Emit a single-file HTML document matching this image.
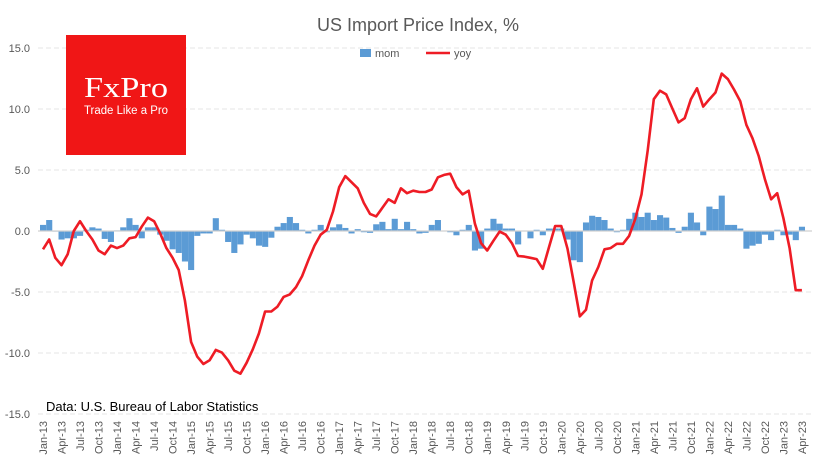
<!DOCTYPE html>
<html><head><meta charset="utf-8"><style>
body{margin:0;background:#fff;width:836px;height:470px;overflow:hidden}
svg{display:block;font-family:"Liberation Sans",sans-serif}
</style></head><body>
<svg id="c" width="836" height="470" xmlns="http://www.w3.org/2000/svg"></svg>
<script>
const yoy=[-1.5,-0.7,-2.2,-2.8,-1.9,0,0.8,0,-0.7,-1.6,-1.9,-1.2,-1.4,-1.2,-0.6,-0.5,0.35,1.1,0.8,-0.2,-1.4,-2.2,-3.2,-5.7,-9.1,-10.3,-10.9,-10.6,-9.75,-9.97,-10.6,-11.45,-11.7,-10.8,-9.7,-8.4,-6.6,-6.6,-6.2,-5.4,-5.2,-4.6,-3.7,-2.4,-1.2,-0.3,0.1,1.6,3.6,4.5,4.0,3.5,2.3,1.4,1.2,1.9,2.6,2.3,3.5,3.1,3.3,3.2,3.2,
3.4,4.4,4.6,4.7,3.6,3.0,3.3,0.6,-1.0,-1.6,-0.8,-0.05,-0.3,-1.0,-2.05,-2.1,-2.2,-2.3,-3.1,-1.35,0.4,0.4,-1.45,-4.15,-7.0,-6.45,-4.05,-2.95,-1.5,-1.4,-1.05,-1.05,-0.4,1.0,3.0,6.6,10.8,11.5,11.2,10.05,8.9,9.25,10.8,11.7,10.2,10.8,11.35,12.9,12.45,11.6,10.65,8.7,7.6,6.15,4.25,2.6,3.1,1.05,-1.4,-4.85,-4.85];
const mom=[0.5,0.9,-0.05,-0.7,-0.6,-0.6,-0.4,0.1,0.3,0.2,-0.65,-0.9,0.05,0.3,1.05,0.5,-0.6,0.3,0.3,-0.3,-0.8,-1.5,-1.8,-2.5,-3.2,-0.4,-0.2,-0.2,1.05,0.1,-0.9,-1.8,-1.1,-0.3,-0.6,-1.2,-1.3,-0.55,0.35,0.65,1.15,0.65,0.1,-0.2,0.1,0.5,-0.1,0.3,0.55,0.25,-0.2,0.15,-0.1,-0.15,0.55,0.75,0.15,1.0,0.15,0.75,0.15,-0.2,
-0.15,0.5,0.9,0,-0.1,-0.35,0.1,0.5,-1.6,-1.45,0.2,1.0,0.6,0.2,0.2,-1.1,0,-0.6,0.1,-0.35,0.2,0.2,0.2,-0.7,-2.4,-2.55,0.7,1.25,1.15,0.9,0.2,-0.1,0.1,1.0,1.5,1.15,1.5,0.9,1.3,1.1,0.25,-0.15,0.35,1.5,0.7,-0.35,2.0,1.8,2.9,0.5,0.5,0.2,-1.45,-1.2,-1.05,-0.3,-0.75,0.1,-0.35,-0.3,-0.75,0.35];
const X=i=>43+6.17*i, Y=v=>231-v*12.2;
let s='';
for(let v=15;v>=-15;v-=5){const y=Y(v);
 if(v!==0) s+=`<line x1="38" x2="812" y1="${y}" y2="${y}" stroke="#e6e6e6" stroke-dasharray="5,3"/>`;
 s+=`<text x="30" y="${y+4}" font-size="11" fill="#595959" text-anchor="end">${v.toFixed(1)}</text>`;}
mom.forEach((v,i)=>{const y=Math.min(Y(v),231),h=Math.abs(v*12.2);s+=`<rect x="${X(i)-3}" y="${y}" width="6.1" height="${h}" fill="#5b9bd5"/>`;});
s+=`<line x1="38" x2="812" y1="231" y2="231" stroke="#d0d0d0" stroke-width="1.2"/>`;
s+=`<polyline fill="none" stroke="#ee1c25" stroke-width="2.6" stroke-linejoin="round" points="${yoy.map((v,i)=>X(i).toFixed(1)+','+Y(v).toFixed(1)).join(' ')}"/>`;
const mn=['Jan','Apr','Jul','Oct'];
for(let i=0;i<124;i+=3){const yr=13+Math.floor(i/12),m=mn[(i%12)/3];
 s+=`<text transform="translate(${X(i)+4},421) rotate(-90)" font-size="11" fill="#595959" text-anchor="end">${m}-${yr}</text>`;}
s+=`<text x="418" y="31" font-size="18" fill="#595959" text-anchor="middle">US Import Price Index, %</text>`;
s+=`<rect x="360" y="49" width="11" height="8" fill="#5b9bd5"/><text x="375" y="57" font-size="11" fill="#595959">mom</text>`;
s+=`<line x1="426" x2="450" y1="53" y2="53" stroke="#ee1c25" stroke-width="2.6"/><text x="454" y="57" font-size="11" fill="#595959">yoy</text>`;
s+=`<rect x="66" y="35" width="120" height="120" fill="#f01616"/>`;
s+=`<text x="84" y="97" font-size="29" fill="#fff" font-family="Liberation Serif,serif" textLength="84" lengthAdjust="spacingAndGlyphs">FxPro</text>`;
s+=`<text x="84" y="114" font-size="11.5" fill="#fff" textLength="84" lengthAdjust="spacingAndGlyphs">Trade Like a Pro</text>`;
s+=`<text x="46" y="411" font-size="13" fill="#000">Data: U.S. Bureau of Labor Statistics</text>`;
document.getElementById('c').innerHTML=s;
</script>
</body></html>
